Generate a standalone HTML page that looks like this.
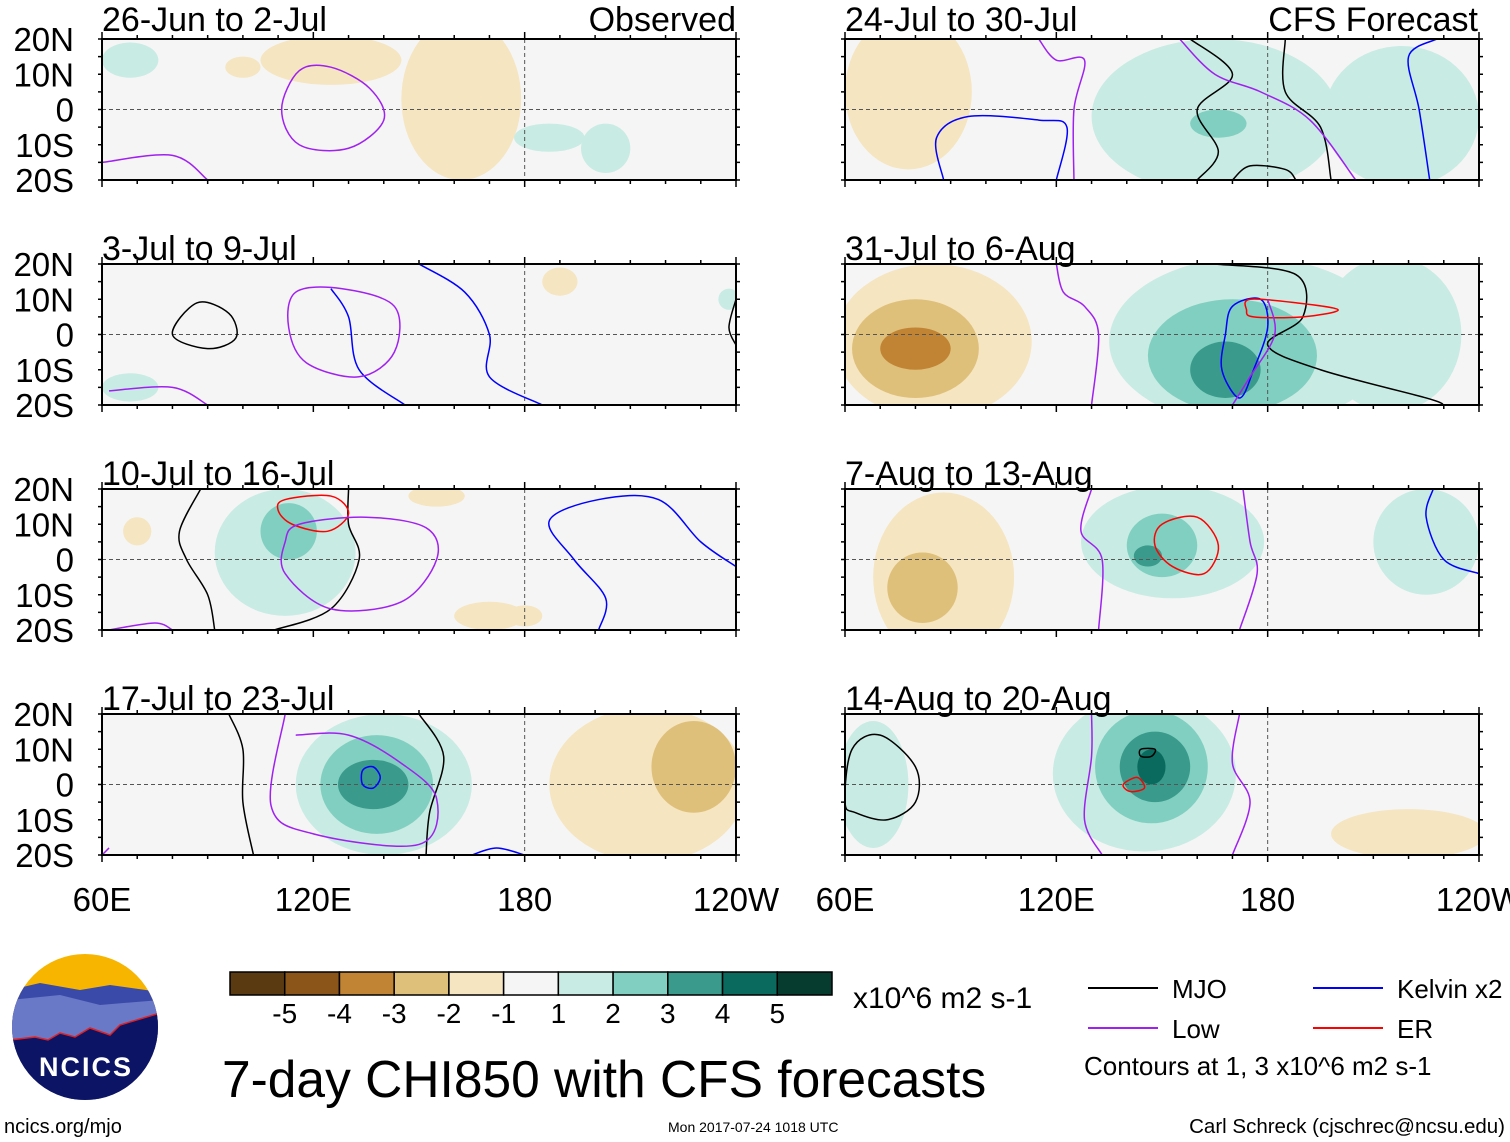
<!DOCTYPE html>
<html><head><meta charset="utf-8"><style>
html,body{margin:0;padding:0;background:#fff;}
svg{display:block;font-family:"Liberation Sans",sans-serif;}
</style></head><body>
<svg id="fig" width="1510" height="1142" viewBox="0 0 1510 1142" xmlns="http://www.w3.org/2000/svg"></svg>
<script>
// ---- data ----
const panelTitles=["26-Jun to 2-Jul","3-Jul to 9-Jul","10-Jul to 16-Jul","17-Jul to 23-Jul","24-Jul to 30-Jul","31-Jul to 6-Aug","7-Aug to 13-Aug","14-Aug to 20-Aug"];
const latTicks=["20N","10N","0","10S","20S"];
const lonTicks=["60E","120E","180","120W"];
const levelColors={"-4":"#8b5418","-3":"#c08434","-2":"#dfc07a","-1":"#f5e5c0","1":"#c8ebe3","2":"#80cfc0","3":"#3a9a8c","4":"#0a6a5e"};
const cbColors=["#5a3a10","#8b5418","#c08434","#dfc07a","#f5e5c0","#f5f5f5","#c8ebe3","#80cfc0","#3a9a8c","#0a6a5e","#063c30"];
const cbLabels=["-5","-4","-3","-2","-1","1","2","3","4","5"];
// anomaly blobs: [lon, lat, rlon, rlat, level]
const blobs0=[[162,3,17,23,-1],[125,14,20,7,-1],[68,14,8,5,1],[187,-8,10,4,1],[203,-11,7,7,1],[100,12,5,3,-1]];
const blobs1=[[68,-15,8,4,1],[190,15,5,4,-1],[238,10,3,3,1]];
const blobs2=[[112,2,20,18,1],[113,8,8,8,2],[70,8,4,4,-1],[170,-16,10,4,-1],[155,18,8,3,-1],[180,-16,5,3,-1]];
const blobs3=[[140,0,25,20,1],[138,0,16,14,2],[137,0,10,7,3],[215,0,28,22,-1],[228,5,12,13,-2]];
const blobs4=[[78,5,18,22,-1],[165,-2,35,22,1],[166,-4,8,4,2],[218,-2,22,20,1]];
const blobs5=[[85,-2,28,22,-1],[80,-4,18,14,-2],[80,-4,10,6,-3],[175,-2,40,24,1],[170,-6,24,16,2],[168,-10,10,8,3],[215,0,20,22,1]];
const blobs6=[[88,-5,20,24,-1],[82,-8,10,10,-2],[153,5,26,16,1],[150,4,10,9,2],[146,1,4,3,3],[225,5,15,15,1]];
const blobs7=[[68,0,10,18,1],[145,3,26,22,1],[147,5,16,16,2],[148,5,10,10,3],[147,5,4,5,4],[220,-14,22,7,-1]];
const allBlobs=[blobs0,blobs1,blobs2,blobs3,blobs4,blobs5,blobs6,blobs7];
// contours: [color, closed, [[lon,lat],...]]
const contours0=[["#a020f0",1,[[116,11],[125,12],[136,6],[140,-3],[130,-11],[116,-10],[111,0]]],["#a020f0",0,[[60,-15],[80,-13],[90,-20]]]];
const contours1=[["#00f",0,[[150,20],[163,12],[170,0],[170,-12],[185,-20]]],["#00f",0,[[125,13],[130,5],[133,-10],[146,-20]]],["#000",1,[[80,0],[87,9],[96,6],[98,-1],[90,-4]]],["#a020f0",1,[[115,12],[128,13],[143,8],[143,-5],[133,-12],[118,-8],[113,2]]],["#a020f0",0,[[62,-16],[80,-15],[90,-20]]],["#000",0,[[240,10],[238,2],[240,-3]]]];
const contours2=[["#000",0,[[88,20],[82,8],[84,0],[90,-10],[92,-20]]],["#000",0,[[130,20],[130,10],[133,0],[125,-14],[109,-20]]],["#f00",1,[[112,17],[125,18],[130,13],[124,8],[114,10],[110,14]]],["#a020f0",1,[[116,10],[135,12],[152,9],[155,0],[145,-12],[125,-14],[112,-4],[112,5]]],["#00f",0,[[201,-20],[203,-11],[194,0],[187,11],[201,17],[218,17],[230,5],[240,-2]]],["#a020f0",0,[[62,-20],[75,-18],[80,-20]]]];
const contours3=[["#000",0,[[96,20],[100,10],[100,-5],[103,-20]]],["#000",0,[[150,20],[157,8],[153,-8],[152,-20]]],["#a020f0",0,[[115,14],[130,14],[145,6],[155,-4],[150,-17],[120,-14],[108,-6],[112,20]]],["#00f",1,[[134,4],[137,5],[139,2],[137,-1],[134,0]]],["#a020f0",0,[[60,-20],[62,-18]]],["#00f",0,[[165,-20],[172,-18],[180,-20]]]];
const contours4=[["#000",0,[[158,20],[170,10],[160,0],[166,-12],[160,-20]]],["#000",0,[[185,20],[185,5],[195,-5],[198,-20]]],["#00f",0,[[88,-20],[86,-8],[95,-2],[115,-3],[123,-5],[120,-20]]],["#a020f0",0,[[115,20],[120,14],[128,14],[125,0],[125,-20]]],["#a020f0",0,[[155,20],[165,10],[178,5],[192,-3],[205,-20]]],["#00f",0,[[228,20],[220,15],[223,0],[226,-20]]],["#000",0,[[170,-20],[175,-16],[185,-17],[188,-20]]]];
const contours5=[["#000",0,[[165,20],[188,17],[190,5],[180,-3],[195,-10],[225,-18],[230,-20]]],["#00f",1,[[170,8],[178,10],[180,2],[176,-10],[172,-18],[167,-10],[168,0]]],["#f00",1,[[175,10],[188,9],[200,7],[190,5],[176,5],[174,7]]],["#a020f0",0,[[120,20],[122,12],[128,8],[132,0],[130,-20]]],["#a020f0",0,[[180,10],[182,0],[175,-12],[170,-20]]]];
const contours6=[["#f00",1,[[150,10],[160,12],[166,4],[162,-4],[153,-2],[148,4]]],["#a020f0",0,[[130,20],[127,8],[133,0],[132,-20]]],["#a020f0",0,[[173,20],[175,5],[177,-4],[172,-20]]],["#00f",0,[[227,20],[225,12],[230,0],[240,-4]]]];
const contours7=[["#000",1,[[60,-5],[62,10],[70,14],[80,5],[80,-5],[72,-10],[63,-8]]],["#000",1,[[144,10],[148,10],[147,8],[144,8]]],["#f00",1,[[139,0],[143,2],[145,-1],[141,-2]]],["#a020f0",0,[[172,20],[170,6],[175,-5],[170,-20]]],["#a020f0",0,[[130,20],[130,8],[128,-10],[133,-20]]]];
const allContours=[contours0,contours1,contours2,contours3,contours4,contours5,contours6,contours7];
const legendNames=["MJO","Low","Kelvin x2","ER"];
const legendColors=["#000","#a020f0","#00f","#f00"];

// ---- drawing ----
const svg=document.getElementById('fig');
const NS="http://www.w3.org/2000/svg";
function mk(tag,attrs,parent){const e=document.createElementNS(NS,tag);for(const k in attrs)e.setAttribute(k,attrs[k]);(parent||svg).appendChild(e);return e;}
const PW=634,PH=141;
const lefts=[102,845],tops=[39,264,489,714];
function catmull(pts,closed){
  const n=pts.length;let d="M"+pts[0][0]+","+pts[0][1];
  const get=i=>closed?pts[(i+n)%n]:pts[Math.max(0,Math.min(n-1,i))];
  const m=closed?n:n-1;
  for(let i=0;i<m;i++){const p0=get(i-1),p1=get(i),p2=get(i+1),p3=get(i+2);
    d+=" C"+(p1[0]+(p2[0]-p0[0])/6)+","+(p1[1]+(p2[1]-p0[1])/6)+" "+(p2[0]-(p3[0]-p1[0])/6)+","+(p2[1]-(p3[1]-p1[1])/6)+" "+p2[0]+","+p2[1];}
  return d+(closed?"Z":"");
}
for(let p=0;p<8;p++){
  const col=p<4?0:1,row=p%4;const x0=lefts[col],y0=tops[row];
  const xs=lon=>x0+(lon-60)*PW/180, ys=lat=>y0+(20-lat)*PH/40;
  const g=mk('g',{});
  
  
  const cid='clip'+p;const cp=mk('clipPath',{id:cid},g);mk('rect',{x:x0,y:y0,width:PW,height:PH},cp);
  mk('rect',{x:x0,y:y0,width:PW,height:PH,fill:'#f5f5f5'},g);
  const inner=mk('g',{'clip-path':'url(#'+cid+')'},g);
  const bl=allBlobs[p].slice().sort((a,b)=>Math.abs(a[4])-Math.abs(b[4]));
  bl.forEach(b=>{const e=mk('ellipse',{cx:xs(b[0]),cy:ys(b[1]),rx:b[2]*PW/180,ry:b[3]*PH/40,fill:levelColors[b[4]]},inner);
    
    });
  mk('line',{x1:x0,y1:ys(0),x2:x0+PW,y2:ys(0),stroke:'#555','stroke-dasharray':'4,3','stroke-width':1},inner);
  mk('line',{x1:xs(180),y1:y0,x2:xs(180),y2:y0+PH,stroke:'#555','stroke-dasharray':'4,3','stroke-width':1},inner);
  allContours[p].forEach(c=>{const pts=c[2].map(q=>[xs(q[0]),ys(q[1])]);
    const e=mk('path',{d:catmull(pts,c[1]),fill:'none',stroke:c[0],'stroke-width':1.5},inner);
    
    });
  mk('rect',{x:x0,y:y0,width:PW,height:PH,fill:'none',stroke:'#000','stroke-width':2},g);
  for(let lon=60;lon<=240;lon+=10){const X=xs(lon),L=(lon%60==0)?7:4;
    mk('line',{x1:X,y1:y0,x2:X,y2:y0-L,stroke:'#000','stroke-width':1.5},g);
    mk('line',{x1:X,y1:y0+PH,x2:X,y2:y0+PH+L,stroke:'#000','stroke-width':1.5},g);}
  for(let lat=-20;lat<=20;lat+=5){const Y=ys(lat);
    mk('line',{x1:x0,y1:Y,x2:x0-4,y2:Y,stroke:'#000','stroke-width':1.5},g);
    mk('line',{x1:x0+PW,y1:Y,x2:x0+PW+4,y2:Y,stroke:'#000','stroke-width':1.5},g);}
  const t=mk('text',{x:x0,y:y0-(row==0?8:4),'font-size':34,fill:'#000'},g);t.textContent=panelTitles[p];
  
  
  if(col==0){latTicks.forEach((s,i)=>{const tt=mk('text',{x:74,y:y0+i*PH/4+12,'font-size':33,'text-anchor':'end'},g);tt.textContent=s;
    
    });}
  if(row==3){lonTicks.forEach((s,i)=>{const tt=mk('text',{x:x0+i*PW/3,y:911,'font-size':33,'text-anchor':'middle'},g);tt.textContent=s;
    
    });}
}
function txt(x,y,s,size,name,anchor){const t=mk('text',{x:x,y:y,'font-size':size,'text-anchor':anchor||'start'});t.textContent=s;
  
  return t;}
txt(736,31,"Observed",34,"observed-label","end");
txt(1478,31,"CFS Forecast",34,"forecast-label","end");
// colorbar
const cbX=230,cbY=972,cbW=602/11;
cbColors.forEach((c,i)=>{const r=mk('rect',{x:cbX+i*cbW,y:cbY,width:cbW,height:23,fill:c,stroke:'#000','stroke-width':1.5});
  
  });
cbLabels.forEach((s,i)=>txt(cbX+(i+1)*cbW,1023,s,28,"colorbar-label","middle"));
txt(853,1008,"x10^6 m2 s-1",30,"colorbar-units");
// legend
legendNames.forEach((s,i)=>{const x=i<2?1088:1313,y=i%2==0?988:1028;
  const l=mk('line',{x1:x,y1:y,x2:x+70,y2:y,stroke:legendColors[i],'stroke-width':2});
  
  
  txt(x+84,y+10,s,26,"legend-entry");});
txt(1084,1075,"Contours at 1, 3 x10^6 m2 s-1",26,"contour-note");
txt(222,1097,"7-day CHI850 with CFS forecasts",51.5,"figure-title");
txt(4,1133,"ncics.org/mjo",20,"site-url");
txt(668,1132,"Mon 2017-07-24 1018 UTC",14,"timestamp");
txt(1505,1133,"Carl Schreck (cjschrec@ncsu.edu)",20.5,"author-credit","end");
// logo
const lg=mk('g',{});


const lc=mk('clipPath',{id:'logoclip'},lg);mk('circle',{cx:85,cy:1027,r:73},lc);
const li=mk('g',{'clip-path':'url(#logoclip)'},lg);
mk('rect',{x:10,y:950,width:150,height:160,fill:'#f7b500'},li);
mk('path',{d:"M10,990 L40,983 L80,990 L110,985 L160,992 L160,1110 L10,1110Z",fill:'#3a4aa8'},li);
mk('path',{d:"M10,1000 L60,995 L100,1005 L160,1000 L160,1110 L10,1110Z",fill:'#6a78c8'},li);
mk('path',{d:"M10,1040 L35,1037 L48,1040 L60,1033 L75,1037 L90,1028 L110,1035 L120,1025 L160,1013 L160,1110 L10,1110Z",fill:'#0c1466',stroke:'#e02020','stroke-width':1.5},li);
const nt=mk('text',{x:86,y:1076,'font-size':27,'font-weight':'bold','text-anchor':'middle',fill:'#fff','letter-spacing':2},lg);nt.textContent="NCICS";
</script>
</body></html>
